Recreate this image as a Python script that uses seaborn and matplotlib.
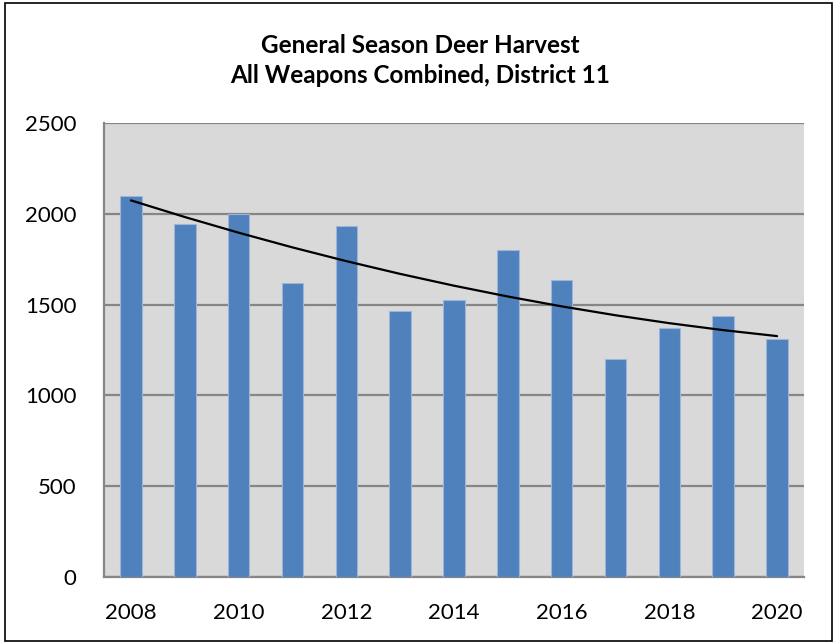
import numpy as np
import pandas as pd
import seaborn as sns
import matplotlib.pyplot as plt
from matplotlib.patches import Rectangle

# Harvest values
years = [2008, 2009, 2010, 2011, 2012, 2013, 2014, 2015, 2016, 2017, 2018, 2019, 2020]
harvest = [2100, 1945, 2000, 1620, 1935, 1465, 1525, 1800, 1635, 1200, 1370, 1435, 1310]
title = "General Season Deer Harvest\nAll Weapons Combined, District 11"

sns.set_style("white")
plt.rcParams['font.family'] = ['Lato', 'DejaVu Sans']

df = pd.DataFrame({"Year": years, "Harvest": harvest})

fig = plt.figure(figsize=(8.37, 6.44), dpi=100)
ax = fig.add_axes([0.1243, 0.104, 0.8363, 0.705])

sns.barplot(data=df, x="Year", y="Harvest", color="#4f81bd", saturation=1,
            width=0.4, edgecolor="#9db5d8", linewidth=0.8, ax=ax, zorder=3)

# 2nd order polynomial trendline, like the spreadsheet one
pos = np.arange(len(years))
coef = np.polyfit(pos, harvest, 2)
ax.plot(pos, np.polyval(coef, pos), color="black", lw=1.6, zorder=4)

ax.set_facecolor("#d9d9d9")
ax.set_ylim(0, 2500)
ax.set_xlim(-0.5, len(years) - 0.5)
ax.set_yticks(range(0, 2501, 500))
ax.set_xticks(pos)
ax.set_xticklabels([str(y) if i % 2 == 0 else "" for i, y in enumerate(years)])
ax.yaxis.grid(True, color="#868686", lw=1.6, zorder=0)
ax.set_axisbelow(True)
ax.tick_params(axis="both", length=0, labelsize=16, colors="black")
ax.tick_params(axis="x", pad=19)
ax.tick_params(axis="y", pad=20)
ax.set_xlabel("")
ax.set_ylabel("")
for side in ["top", "right"]:
    ax.spines[side].set_visible(False)
ax.spines["left"].set_color("#868686")
ax.spines["left"].set_linewidth(1.6)
ax.spines["bottom"].set_color("#868686")
ax.spines["bottom"].set_linewidth(1.6)

fig.text(0.502, 0.906, title, ha="center", va="center", fontsize=17.5,
         fontweight="bold", linespacing=1.38, color="black")

# outer border of the chart box
fig.patches.append(Rectangle((0.006, 0.004), 0.988, 0.992, transform=fig.transFigure,
                             fill=False, edgecolor="black", lw=1.2))

fig.savefig("out.png", dpi=100)
